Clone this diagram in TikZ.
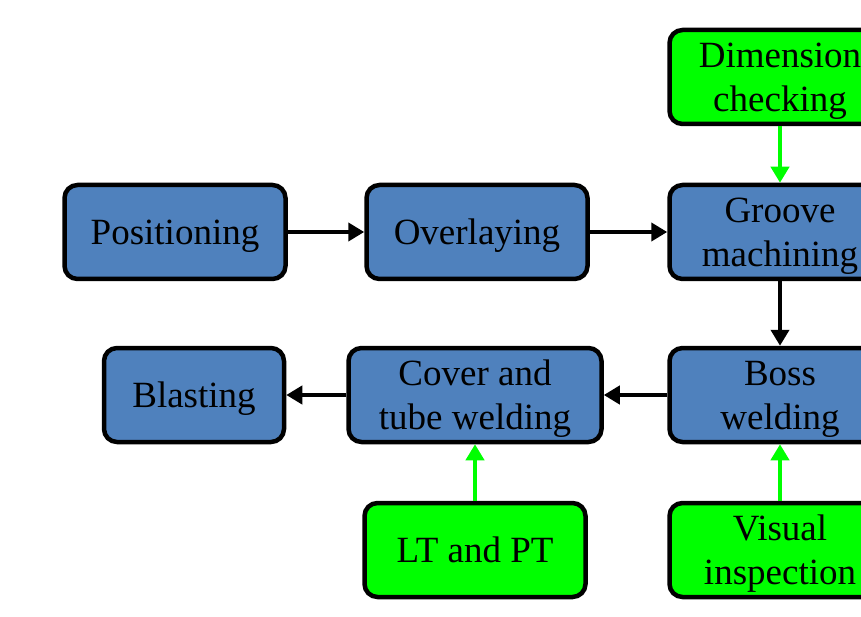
\documentclass[tikz,border=0pt]{standalone}
\usepackage{fontspec}
\setmainfont{Liberation Serif}
\usepackage[HTML]{xcolor}
\usetikzlibrary{positioning, arrows.meta}
\definecolor{stepblue}{HTML}{4F81BD}
\definecolor{checkgreen}{HTML}{00FF00}
\tikzset{
  stepbox/.style={draw=black, line width=4.5pt, rounded corners=13pt, fill=stepblue,
    minimum width=221pt, minimum height=94pt, inner sep=0pt, align=center,
    text depth=0pt, font=\fontsize{37}{44}\selectfont},
  checkbox/.style={stepbox, fill=checkgreen},
  flow/.style={-{Triangle[length=16pt,width=18pt]}, line width=4.5pt, black},
  check/.style={flow, checkgreen},
}

\begin{document}
\begin{tikzpicture}[x=1pt,y=-1pt]
\useasboundingbox (0,0) rectangle (861,617);
\clip (0,0) rectangle (861,617);
\node[stepbox] (pos) at (175,232) {Positioning};
\node[stepbox] (over) at (477,232) {Overlaying};
\node[stepbox] (groove) at (780,232) {Groove\\machining};
\node[checkbox] (dim) at (780,77) {Dimension\\checking};
\node[stepbox] (boss) at (780,395) {Boss\\welding};
\node[stepbox, minimum width=253pt] (cover) at (475,395) {Cover and\\tube welding};
\node[stepbox, minimum width=180pt] (blast) at (194,395) {Blasting};
\node[checkbox] (ltpt) at (475,550) {LT and PT};
\node[checkbox] (vis) at (780,550) {Visual\\inspection};
\draw[flow] (pos) -- (over);
\draw[flow] (over) -- (groove);
\draw[flow] (groove) -- (boss);
\draw[flow] (boss) -- (cover);
\draw[flow] (cover) -- (blast);
\draw[check] (dim) -- (groove);
\draw[check] (ltpt) -- (cover);
\draw[check] (vis) -- (boss);
\end{tikzpicture}
\end{document}
